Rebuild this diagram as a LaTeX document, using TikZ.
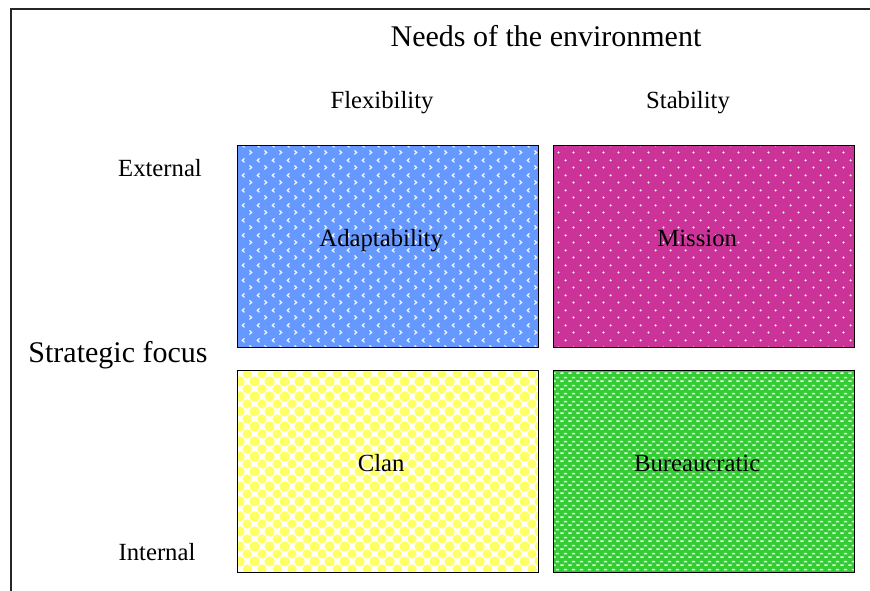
\documentclass[tikz,border=0pt]{standalone}
\usepackage{fontspec}
\setmainfont{Liberation Serif}
\usetikzlibrary{patterns}

% Textures laid over the coloured quadrants (units: pt)
\pgfdeclarepatternformonly{quadchevrons}{\pgfqpoint{0pt}{0pt}}{\pgfqpoint{15pt}{15pt}}{\pgfqpoint{15pt}{15pt}}{%
  \pgfsetlinewidth{1.2pt}%
  \pgfpathmoveto{\pgfqpoint{4.8pt}{13.4pt}}%
  \pgfpathlineto{\pgfqpoint{2.4pt}{11.3pt}}%
  \pgfpathlineto{\pgfqpoint{4.8pt}{9.2pt}}%
  \pgfpathmoveto{\pgfqpoint{10.0pt}{5.9pt}}%
  \pgfpathlineto{\pgfqpoint{12.4pt}{3.8pt}}%
  \pgfpathlineto{\pgfqpoint{10.0pt}{1.7pt}}%
  \pgfusepath{stroke}}

\pgfdeclarepatternformonly{quaddots}{\pgfqpoint{0pt}{0pt}}{\pgfqpoint{15pt}{15pt}}{\pgfqpoint{15pt}{15pt}}{%
  \pgfpathcircle{\pgfqpoint{3.75pt}{3.75pt}}{1.2pt}%
  \pgfpathcircle{\pgfqpoint{11.25pt}{11.25pt}}{1.2pt}%
  \pgfusepath{fill}}

\pgfdeclarepatternformonly{quadbubbles}{\pgfqpoint{0pt}{0pt}}{\pgfqpoint{15pt}{15pt}}{\pgfqpoint{15pt}{15pt}}{%
  \pgfpathcircle{\pgfqpoint{0pt}{0pt}}{4.9pt}%
  \pgfpathcircle{\pgfqpoint{15pt}{0pt}}{4.9pt}%
  \pgfpathcircle{\pgfqpoint{0pt}{15pt}}{4.9pt}%
  \pgfpathcircle{\pgfqpoint{15pt}{15pt}}{4.9pt}%
  \pgfpathcircle{\pgfqpoint{7.5pt}{7.5pt}}{4.9pt}%
  \pgfusepath{fill}}

\pgfdeclarepatternformonly{quaddashes}{\pgfqpoint{0pt}{0pt}}{\pgfqpoint{8pt}{8pt}}{\pgfqpoint{8pt}{8pt}}{%
  \pgfpathrectangle{\pgfqpoint{0.3pt}{1.2pt}}{\pgfqpoint{3.8pt}{1.7pt}}%
  \pgfpathrectangle{\pgfqpoint{4.3pt}{5.2pt}}{\pgfqpoint{3.8pt}{1.7pt}}%
  \pgfusepath{fill}}

\definecolor{adaptblue}{RGB}{102,153,255}
\definecolor{missionpink}{RGB}{204,51,153}
\definecolor{clanyellow}{RGB}{255,255,102}
\definecolor{bureaugreen}{RGB}{51,204,51}

\tikzset{
  quadbox/.style={draw=black, line width=1.4pt, minimum width=301pt,
    minimum height=202pt, inner sep=0pt, anchor=north west},
  bigtext/.style={font=\fontsize{30}{34}\selectfont, anchor=base, inner sep=0pt},
  smalltext/.style={font=\fontsize{24.7}{28}\selectfont, anchor=base, inner sep=0pt},
}

\begin{document}
\begin{tikzpicture}[x=1pt,y=-1pt]
  \useasboundingbox (0,0) rectangle (870,590);
  \fill[white] (0,0) rectangle (870,590);

  % outer frame, open to the right and bottom
  \coordinate (frameBL) at (11,592);
  \coordinate (frameTL) at (11,9);
  \coordinate (frameTR) at (872,9);
  \draw[line width=2pt, black!85] (frameBL) -- (frameTL) -- (frameTR);

  % headings
  \node[bigtext] (needs) at (546,46) {Needs of the environment};
  \node[smalltext] (flex) at (382,108) {Flexibility};
  \node[smalltext] (stab) at (688,108) {Stability};
  \node[smalltext] (ext) at (160,176) {External};
  \node[bigtext] (focus) at (118,362) {Strategic focus};
  \node[smalltext] (int) at (157,560) {Internal};

  % quadrants
  \node[quadbox, preaction={fill=adaptblue}, pattern=quadchevrons,
        pattern color=white!95!adaptblue] (adapt) at (237,145) {};
  \node[quadbox, preaction={fill=missionpink}, pattern=quaddots,
        pattern color=white] (mission) at (553,145) {};
  \node[quadbox, preaction={fill=white}, pattern=quadbubbles,
        pattern color=clanyellow] (clan) at (237,370) {};
  \node[quadbox, preaction={fill=bureaugreen}, pattern=quaddashes,
        pattern color=white!92!bureaugreen] (bureau) at (553,370) {};

  % quadrant labels
  \node[smalltext] at ([xshift=-7pt]adapt.center) {Adaptability};
  \node[smalltext] at ([xshift=-7pt]mission.center) {Mission};
  \node[smalltext] at ([xshift=-7pt]clan.center) {Clan};
  \node[smalltext] at ([xshift=-7pt]bureau.center) {Bureaucratic};
\end{tikzpicture}
\end{document}
